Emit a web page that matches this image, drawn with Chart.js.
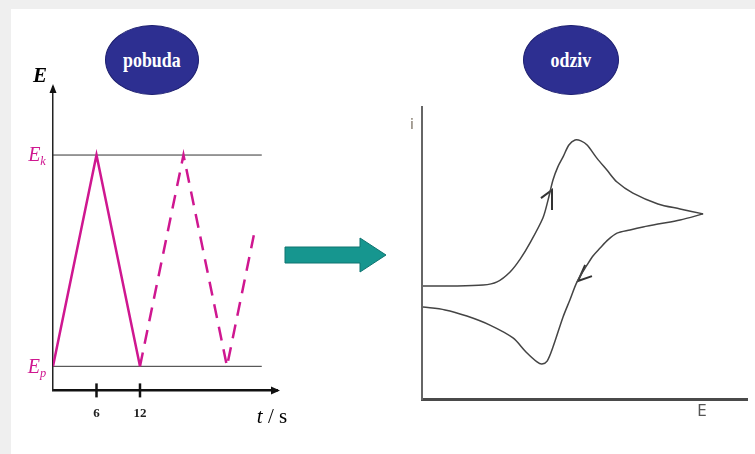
<!DOCTYPE html>
<html>
<head>
<meta charset="utf-8">
<script src="https://cdn.jsdelivr.net/npm/chart.js@4.4.1/dist/chart.umd.min.js"></script>
<style>
  html, body { margin: 0; padding: 0; }
  body { width: 755px; height: 454px; background: #efefef; position: relative; overflow: hidden; }
  #page { position: absolute; left: 11px; top: 9px; right: 0; bottom: 0; background: #fff; }
  canvas { position: absolute; top: 0; }
  .lbl { position: absolute; transform: translate(-50%, -50%); white-space: nowrap; line-height: 1; }
  .oval { position: absolute; border-radius: 50%; background: #2d2f91; border: 1px solid #1e2070;
          display: flex; align-items: center; justify-content: center; }
  .oval span { color: #fff; font: bold 21px "Liberation Serif", serif; transform: scaleX(0.85); display: inline-block; }
  .serif { font-family: "Liberation Serif", serif; }
  .mag { color: #cf1790; }
  sub { font-size: 62%; vertical-align: -0.35em; }
</style>
</head>
<body>
<div id="page"></div>
<canvas id="pobuda" width="300" height="454" style="left:0"></canvas>
<canvas id="odziv" width="365" height="454" style="left:390px"></canvas>

<div class="oval" style="left:105px;top:25px;width:92px;height:68px"><span>pobuda</span></div>
<div class="oval" style="left:523px;top:25px;width:94px;height:68px"><span>odziv</span></div>

<div class="lbl serif" style="left:40px;top:75px;font-size:21px;font-style:italic;font-weight:bold">E</div>
<div class="lbl serif mag" style="left:37px;top:156px;font-size:20px;font-style:italic">E<sub>k</sub></div>
<div class="lbl serif mag" style="left:37px;top:368px;font-size:20px;font-style:italic">E<sub>p</sub></div>
<div class="lbl serif" style="left:272px;top:416px;font-size:21px"><i>t</i> / s</div>

<div class="lbl" style="left:412px;top:124px;font:14px 'DejaVu Sans', sans-serif;color:#7a7063">i</div>
<div class="lbl" style="left:702px;top:411px;font:15px 'DejaVu Sans', sans-serif;color:#555">E</div>

<svg style="position:absolute;left:0;top:0" width="755" height="454">
  <polygon points="285,247 360,247 360,238 386,255 360,272 360,263 285,263" fill="#16968f" stroke="#0f7470" stroke-width="1"/>
</svg>

<script>
// pobuda: trokutasti potencijal E(t)
const tSolid = [0, 6, 12];
const eSolid = [0, 1, 0];
const tDash = [12, 18, 24, 27.7];
const eDash = [0, 1, 0, 0.62];
const tLimits = [0, 28.8];      // vodoravne crte Ep i Ek
const xTicks = [6, 12];

// odziv: ciklicki voltamogram
const cvFwdE = [0.03, 0.86, 1.88, 2.31, 2.71, 3.02, 3.32, 3.72, 3.88, 4.03, 4.18, 4.34, 4.52, 4.71, 4.89, 5.08, 5.38, 5.69, 6.00, 6.49, 7.26, 7.94, 8.65];
const cvFwdI = [3.87, 3.87, 3.90, 4.01, 4.35, 4.79, 5.34, 6.20, 6.82, 7.50, 7.95, 8.29, 8.70, 8.87, 8.84, 8.70, 8.25, 7.84, 7.43, 7.05, 6.68, 6.51, 6.34];
const cvRevE = [8.65, 7.94, 7.26, 6.80, 6.40, 6.00, 5.72, 5.48, 5.26, 5.08, 4.77, 4.55, 4.34, 4.03, 3.85, 3.69, 3.54, 3.20, 2.80, 2.09, 1.38, 0.71, 0.03];
const cvRevI = [6.34, 6.13, 5.99, 5.89, 5.79, 5.68, 5.45, 5.17, 4.90, 4.59, 4.01, 3.39, 2.81, 1.78, 1.30, 1.20, 1.27, 1.61, 2.09, 2.53, 2.84, 3.05, 3.15];
const upArrowE = [3.66, 4.0, 4.0];
const upArrowI = [6.88, 7.16, 6.47];
const downArrowE = [5.02, 4.8, 5.23];
const downArrowI = [4.59, 4.04, 4.21];

const pts = (xs, ys) => xs.map((x, i) => ({ x: x, y: ys[i] }));
const magenta = '#cf1790';

const lijeviPlugin = {
  id: 'strelice',
  afterDraw(chart) {
    const ctx = chart.ctx;
    const a = chart.chartArea;
    const xs = chart.scales.x;
    ctx.save();
    ctx.fillStyle = '#111';
    ctx.beginPath();
    ctx.moveTo(a.left, a.top - 3);
    ctx.lineTo(a.left - 3.5, a.top + 6);
    ctx.lineTo(a.left + 3.5, a.top + 6);
    ctx.fill();
    ctx.beginPath();
    ctx.moveTo(a.right + 3, a.bottom);
    ctx.lineTo(a.right - 6, a.bottom - 4);
    ctx.lineTo(a.right - 6, a.bottom + 4);
    ctx.fill();
    ctx.strokeStyle = '#111';
    ctx.lineWidth = 2.5;
    xTicks.forEach(v => {
      const px = xs.getPixelForValue(v);
      ctx.beginPath();
      ctx.moveTo(px, a.bottom - 7);
      ctx.lineTo(px, a.bottom + 7);
      ctx.stroke();
    });
    ctx.restore();
  }
};

new Chart(document.getElementById('pobuda'), {
  type: 'scatter',
  data: {
    datasets: [
      { data: pts(tSolid, eSolid), showLine: true, borderColor: magenta, borderWidth: 2.5, pointRadius: 0 },
      { data: pts(tDash, eDash), showLine: true, borderColor: magenta, borderWidth: 2.5, borderDash: [14, 9], pointRadius: 0 },
      { data: pts(tLimits, [1, 1]), showLine: true, borderColor: '#333', borderWidth: 1, pointRadius: 0 },
      { data: pts(tLimits, [0, 0]), showLine: true, borderColor: '#333', borderWidth: 1, pointRadius: 0 }
    ]
  },
  options: {
    responsive: false,
    animation: false,
    layout: { padding: { left: 53, top: 87, right: 23, bottom: 18 } },
    plugins: { legend: { display: false }, tooltip: { enabled: false } },
    scales: {
      x: {
        type: 'linear', min: 0, max: 30.9,
        grid: { display: false, drawTicks: false },
        border: { display: true, color: '#111', width: 2.5 },
        ticks: { color: '#222', padding: 15, font: { family: 'Liberation Serif', size: 13, weight: 'bold' } },
        afterBuildTicks: s => { s.ticks = xTicks.map(v => ({ value: v })); }
      },
      y: {
        type: 'linear', min: -0.114, max: 1.322,
        grid: { display: false, drawTicks: false },
        border: { display: true, color: '#222', width: 1.5 },
        ticks: { display: false }
      }
    }
  },
  plugins: [lijeviPlugin]
});

new Chart(document.getElementById('odziv'), {
  type: 'scatter',
  data: {
    datasets: [
      { data: pts(cvFwdE, cvFwdI), showLine: true, borderColor: '#444', borderWidth: 1.5, pointRadius: 0, tension: 0.3 },
      { data: pts(cvRevE, cvRevI), showLine: true, borderColor: '#444', borderWidth: 1.5, pointRadius: 0, tension: 0.3 },
      { data: pts(upArrowE, upArrowI), showLine: true, borderColor: '#333', borderWidth: 2, pointRadius: 0 },
      { data: pts(downArrowE, downArrowI), showLine: true, borderColor: '#333', borderWidth: 2, pointRadius: 0 }
    ]
  },
  options: {
    responsive: false,
    animation: false,
    layout: { padding: { left: 32, top: 107, right: 8, bottom: 55 } },
    plugins: { legend: { display: false }, tooltip: { enabled: false } },
    scales: {
      x: {
        type: 'linear', min: 0, max: 10,
        grid: { display: false, drawTicks: false },
        border: { display: true, color: '#4a4a4a', width: 3 },
        ticks: { display: false }
      },
      y: {
        type: 'linear', min: 0, max: 10,
        grid: { display: false, drawTicks: false },
        border: { display: true, color: '#666', width: 2 },
        ticks: { display: false }
      }
    }
  }
});
</script>
</body>
</html>
